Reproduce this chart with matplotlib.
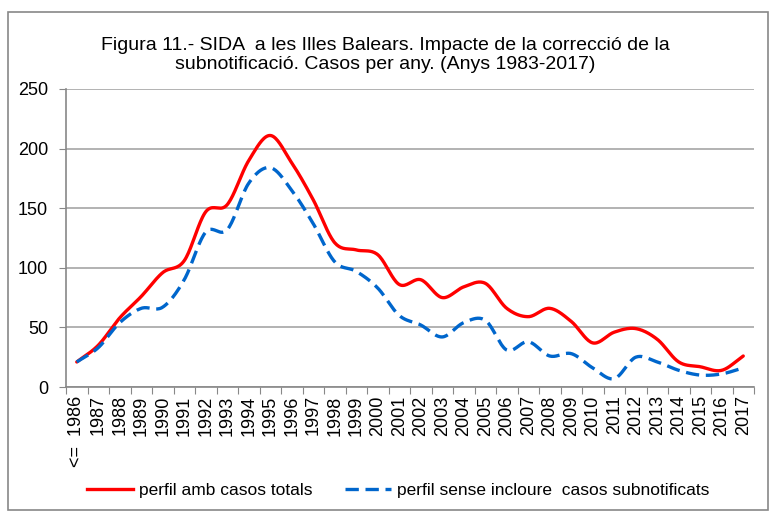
import numpy as np
import matplotlib.pyplot as plt
from matplotlib.patches import Rectangle
from matplotlib.lines import Line2D

plt.rcParams['font.family'] = ['Liberation Sans', 'DejaVu Sans']

years = ["<=  1986"] + [str(y) for y in range(1987, 2018)]
casos_totals = [21, 35, 58, 76, 96, 106, 147, 153, 190, 211, 188, 157, 121, 115, 111, 86,
                90, 75, 84, 87, 66, 59, 66, 55, 37, 46, 49, 40, 21, 17, 14, 26]
sense_subnotif = [21, 33, 54, 66, 67, 90, 130, 132, 171, 184, 165, 137, 105, 97, 83, 60,
                  52, 42, 54, 56, 31, 38, 26, 28, 16, 7, 25, 21, 14, 10, 11, 16]

title = ("Figura 11.- SIDA  a les Illes Balears. Impacte de la correcció de la\n"
         "subnotificació. Casos per any. (Anys 1983-2017)")


def smooth(x, y, steps=20):
    # catmull-rom, like excel's smoothed line
    x = np.asarray(x, float)
    y = np.asarray(y, float)
    px = np.concatenate([[2 * x[0] - x[1]], x, [2 * x[-1] - x[-2]]])
    py = np.concatenate([[2 * y[0] - y[1]], y, [2 * y[-1] - y[-2]]])
    xs, ys = [], []
    t = np.linspace(0, 1, steps, endpoint=False)
    for i in range(1, len(px) - 2):
        for p, out in ((px, xs), (py, ys)):
            p0, p1, p2, p3 = p[i - 1], p[i], p[i + 1], p[i + 2]
            out.extend(0.5 * (2 * p1 + (-p0 + p2) * t + (2 * p0 - 5 * p1 + 4 * p2 - p3) * t ** 2
                              + (-p0 + 3 * p1 - 3 * p2 + p3) * t ** 3))
    xs.append(x[-1])
    ys.append(y[-1])
    return np.array(xs), np.array(ys)


fig = plt.figure(figsize=(7.74, 5.14), dpi=100)
ax = fig.add_axes([66 / 774, 1 - 387 / 514, (754 - 66) / 774, (387 - 89) / 514])

n = len(years)
xpos = np.arange(n)

ax.set_ylim(0, 250)
ax.set_xlim(-0.5, n - 0.5)
ax.set_yticks(np.arange(0, 251, 50))
ax.yaxis.grid(True, color='#a6a6a6', lw=1.2)
ax.set_axisbelow(True)

sx, sy = smooth(xpos, casos_totals)
ax.plot(sx, sy, color='#ff0000', lw=2.4, solid_capstyle='round', zorder=3)
sx, sy = smooth(xpos, sense_subnotif)
ax.plot(sx, sy, color='#0066cc', lw=2.4, dashes=(4, 2), zorder=3)

ax.set_xticks(np.arange(n + 1) - 0.5)
ax.set_xticklabels([])
ax.set_xticks(xpos, minor=True)
ax.set_xticklabels(years, minor=True, rotation=90, fontsize=13)
ax.tick_params(axis='x', which='major', length=5, color='#888888')
ax.tick_params(axis='x', which='minor', length=0, pad=6)
ax.tick_params(axis='y', length=5, color='#888888', labelsize=13, pad=8)

for s in ['top', 'right']:
    ax.spines[s].set_visible(False)
for s in ['left', 'bottom']:
    ax.spines[s].set_color('#888888')
    ax.spines[s].set_linewidth(1.2)

fig.text(385 / 774, 1 - 55 / 514, title, ha='center', va='center', fontsize=14,
         linespacing=1.1)

handles = [Line2D([], [], color='#ff0000', lw=2.4),
           Line2D([], [], color='#0066cc', lw=2.4, dashes=(4, 2))]
fig.legend(handles, ["perfil amb casos totals", "perfil sense incloure  casos subnotificats"],
           loc='center', bbox_to_anchor=(398 / 774, 1 - 490 / 514), ncol=2, frameon=False,
           fontsize=12.5, handlelength=2.65, columnspacing=1.85, handletextpad=0.35)

fig.patches.append(Rectangle((8 / 774, 1 - 510 / 514), 760 / 774, 498 / 514,
                             transform=fig.transFigure, fill=False, ec='#888888', lw=1.2))

fig.savefig("out.png", dpi=100)
